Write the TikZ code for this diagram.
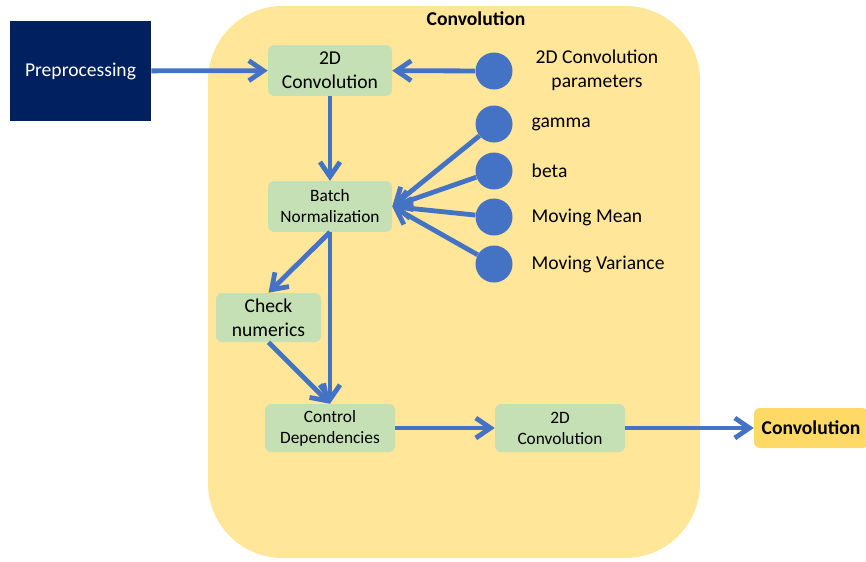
\documentclass[tikz,border=0pt]{standalone}
\usepackage{fontspec}
\setmainfont{Carlito}
\usetikzlibrary{arrows.meta}

\definecolor{flowblue}{HTML}{4472C4}
\definecolor{layerbg}{HTML}{FFE699}
\definecolor{opgreen}{HTML}{C5E0B4}
\definecolor{prenavy}{HTML}{002060}
\definecolor{outgold}{HTML}{FFD966}

\begin{document}
\begin{tikzpicture}[x=0.75pt, y=-0.75pt,
    bigtext/.style={font=\fontsize{14.7}{18}\selectfont},
    smalltext/.style={font=\fontsize{13}{15.75}\selectfont},
    opbox/.style={fill=opgreen, rounded corners=4.5pt, align=center, inner sep=0pt,
                  minimum width=93pt, minimum height=38pt},
    param/.style={circle, fill=flowblue, minimum size=27.75pt, inner sep=0pt},
    flow/.style={draw=flowblue, line width=3.6pt, -{Straight Barb[length=11pt, width=15pt]}}]
\useasboundingbox (0,0) rectangle (866,561);

% Bloco da camada
\fill[layerbg, rounded corners=56pt] (208,6) rectangle (700,558);
\node[font=\fontsize{14.7}{18}\selectfont\bfseries] (title) at (476,19) {Convolution};

% Entrada e saida
\node[fill=prenavy, text=white, bigtext, minimum width=105.75pt, minimum height=75pt,
      inner sep=0pt] (pre) at (80.5,71) {Preprocessing};
\node[fill=outgold, rounded corners=4.5pt, font=\fontsize{14.7}{18}\selectfont\bfseries,
      minimum width=85.5pt, minimum height=30pt, inner sep=0pt] (out) at (811,428) {Convolution};

% Operacoes
\node[opbox, bigtext] (conv1) at (330,70.5) {2D\\Convolution};
\node[opbox, smalltext] (bn) at (330,206.5) {Batch\\Normalization};
\node[opbox, bigtext, minimum width=78.75pt, minimum height=36.75pt] (check) at (268.5,317.5) {Check\\numerics};
\node[opbox, smalltext, minimum width=97.5pt, minimum height=36pt] (ctrl) at (330,428) {Control\\Dependencies};
\node[opbox, smalltext, minimum width=97.5pt, minimum height=36pt] (conv2) at (560,428) {2D\\Convolution};

% Parametros
\node[param] (cparam) at (494,71) {};
\node[bigtext, align=center] (cparam-lab) at (597,70) {2D Convolution\\parameters};
\foreach \name/\y/\lab in {gamma/124/gamma, beta/171/beta, mean/217/Moving Mean, var/264/Moving Variance} {
    \node[param] (\name) at (494,\y) {};
    \node[bigtext, anchor=west] (\name-lab) at (527,\y) {\lab};
    \draw[flow] (\name) -- (bn.east);
}

% Fluxo
\draw[flow] (pre) -- (conv1);
\draw[flow] (cparam) -- (conv1);
\draw[flow] (conv1) -- (bn);
\draw[flow] (bn.south) -- (check.north);
\draw[flow] (bn.south) -- (ctrl.north);
\draw[flow] (check.south) -- (ctrl.north);
\draw[flow] (ctrl) -- (conv2);
\draw[flow] (conv2) -- (out);
\end{tikzpicture}
\end{document}
